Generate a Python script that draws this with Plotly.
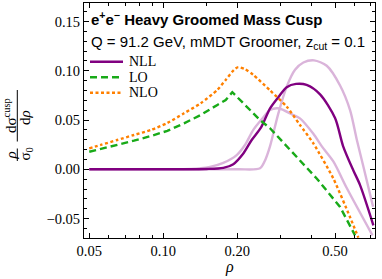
import plotly.graph_objects as go

# ---------------- data ----------------
rho_nll = [0.05, 0.10, 0.15, 0.1755, 0.1928, 0.2117, 0.229, 0.25, 0.272, 0.295,
           0.318, 0.347, 0.383, 0.4345, 0.50, 0.539, 0.593, 0.632, 0.716]
nll = [0.0, 0.0, 0.0003, 0.0015, 0.0052, 0.016, 0.0297, 0.0425, 0.0619, 0.0737,
       0.0833, 0.0866, 0.0856, 0.076, 0.052, 0.0236, -0.001, -0.016, -0.0568]

rho_lo = [0.05, 0.0557, 0.065, 0.076, 0.0889, 0.1039, 0.1215, 0.142, 0.166, 0.1795,
          0.191, 0.2476, 0.272, 0.328, 0.421, 0.524, 0.603]
lo = [0.0178, 0.0205, 0.0246, 0.029, 0.0337, 0.039, 0.0466, 0.0551, 0.0653, 0.0703,
      0.0782, 0.050, 0.0416, 0.0195, -0.0093, -0.0382, -0.067]

rho_nlo = [0.05, 0.0557, 0.065, 0.076, 0.0889, 0.1039, 0.1215, 0.142, 0.166, 0.1795,
           0.194, 0.202, 0.215, 0.2325, 0.272, 0.318, 0.36, 0.408, 0.492, 0.575, 0.622]
nlo = [0.0212, 0.0247, 0.0297, 0.0348, 0.0398, 0.047, 0.0568, 0.067, 0.0805, 0.0907,
       0.1009, 0.1036, 0.1016, 0.0958, 0.080, 0.0635, 0.045, 0.0263, -0.0093, -0.0484, -0.0693]

# NLL scale-variation envelope (light curves)
rho_up = [0.05, 0.10, 0.20, 0.2476, 0.2595, 0.272, 0.294, 0.318, 0.3437, 0.3716,
          0.4107, 0.4625, 0.524, 0.5755, 0.613, 0.656, 0.714]
nll_up = [0.0, 0.0, 0.0, 0.001, 0.009, 0.0235, 0.0568, 0.0839, 0.1009, 0.1083,
          0.1105, 0.105, 0.085, 0.060, 0.030, 0.0, -0.038]

rho_dn = [0.05, 0.10, 0.13, 0.142, 0.155, 0.1755, 0.199, 0.215, 0.2325, 0.252,
          0.272, 0.294, 0.338, 0.36, 0.408, 0.4426, 0.492, 0.558, 0.71]
nll_dn = [0.0, 0.0, 0.0003, 0.001, 0.0025, 0.0066, 0.0144, 0.0246, 0.040, 0.051,
          0.0602, 0.0619, 0.0551, 0.0517, 0.036, 0.023, 0.008, -0.019, -0.067]

x_tickvals = [0.05, 0.10, 0.20, 0.50]
x_ticktext = ["0.05", "0.10", "0.20", "0.50"]
x_minor = [0.06, 0.07, 0.08, 0.09, 0.15, 0.3, 0.4, 0.6, 0.7]
y_tickvals = [-0.05, 0.0, 0.05, 0.10, 0.15]
y_ticktext = ["\u22120.05", "0.00", "0.05", "0.10", "0.15"]

legend_names = ["NLL", "LO", "NLO"]

# ---------------- styling ----------------
PURPLE = "rgb(128,0,128)"
LIGHT = "rgb(218,180,218)"
GREEN = "rgb(24,170,24)"
ORANGE = "rgb(255,128,0)"
SERIF = "Liberation Serif"
SANS = "Liberation Sans"

W, H = 382, 279
L, R, T, B = 84, 7, 3, 41
PW, PH = W - L - R, H - T - B


def px(x):
    return (x - L) / PW


def py(y):
    return (H - B - y) / PH


fig = go.Figure()
for xs, ys in [(rho_up, nll_up), (rho_dn, nll_dn)]:
    fig.add_trace(go.Scatter(x=xs, y=ys, mode="lines", showlegend=False, hoverinfo="skip",
                             line=dict(color=LIGHT, width=2.4, shape="spline", smoothing=0.8)))
fig.add_trace(go.Scatter(x=rho_nll, y=nll, mode="lines", name=legend_names[0], showlegend=False,
                         line=dict(color=PURPLE, width=2.4, shape="spline", smoothing=0.8)))
fig.add_trace(go.Scatter(x=rho_lo, y=lo, mode="lines", name=legend_names[1], showlegend=False,
                         line=dict(color=GREEN, width=2.4, dash="7px,4px")))
fig.add_trace(go.Scatter(x=rho_nlo, y=nlo, mode="lines", name=legend_names[2], showlegend=False,
                         line=dict(color=ORANGE, width=2.4, dash="3px,2.5px", shape="spline", smoothing=0.6)))

axis_common = dict(showline=True, linecolor="black", linewidth=1, mirror="ticks",
                   ticks="inside", ticklen=5, tickwidth=1, tickcolor="black",
                   showgrid=False, zeroline=False, automargin=False,
                   tickfont=dict(family=SERIF, size=14.5, color="black"))

fig.update_xaxes(type="log", range=[-1.3224, -0.1385], tickmode="array",
                 tickvals=x_tickvals, ticktext=x_ticktext,
                 minor=dict(tickvals=x_minor, ticks="inside", ticklen=3, tickcolor="black"),
                 **axis_common)
fig.update_yaxes(range=[-0.0697, 0.1687], tickmode="array",
                 tickvals=y_tickvals, ticktext=y_ticktext,
                 minor=dict(dtick=0.01, tick0=0, ticks="inside", ticklen=3, tickcolor="black"),
                 **axis_common)

shapes = []
annotations = []

# title lines
annotations.append(dict(text="<b>e<sup>+</sup>e<sup>\u2212</sup> Heavy Groomed Mass Cusp</b>",
                        x=px(89), y=py(19), xref="paper", yref="paper", xanchor="left", yanchor="middle",
                        showarrow=False, font=dict(family=SANS, size=15, color="black")))
annotations.append(dict(text="Q = 91.2 GeV, mMDT Groomer, z<sub>cut</sub> = 0.1",
                        x=px(89), y=py(42), xref="paper", yref="paper", xanchor="left", yanchor="middle",
                        showarrow=False, font=dict(family=SANS, size=15, color="black")))

# legend (manual)
leg_y = [61.7, 77.3, 92.7]
leg_style = [dict(color=PURPLE, width=2.4), dict(color=GREEN, width=2.4, dash="7px,4px"),
             dict(color=ORANGE, width=2.4, dash="3px,2.5px")]
for name, yy, st in zip(legend_names, leg_y, leg_style):
    shapes.append(dict(type="line", xref="paper", yref="paper", x0=px(90), x1=px(123),
                       y0=py(yy), y1=py(yy), line=st))
    annotations.append(dict(text=name, x=px(127), y=py(yy), xref="paper", yref="paper",
                            xanchor="left", yanchor="middle", showarrow=False,
                            font=dict(family=SERIF, size=14, color="black")))

# x axis title
annotations.append(dict(text="<i>\u03c1</i>", x=px(229.5), y=py(267), xref="paper", yref="paper",
                        xanchor="center", yanchor="middle", showarrow=False,
                        font=dict(family=SERIF, size=16, color="black")))

# y axis title: rho/sigma0 * dsigma^cusp/drho (rotated)
ytitle = [("<i>\u03c1</i>", 10, 155.5), ("\u03c3<sub>0</sub>", 25, 154.5),
          ("d\u03c3<sup>cusp</sup>", 10, 116), ("d<i>\u03c1</i>", 25, 118)]
for txt, xx, yy in ytitle:
    annotations.append(dict(text=txt, x=px(xx), y=py(yy), xref="paper", yref="paper",
                            xanchor="center", yanchor="middle", textangle=-90, showarrow=False,
                            font=dict(family=SERIF, size=15, color="black")))
for y0, y1 in [(148.5, 161), (90, 141.5)]:
    shapes.append(dict(type="line", xref="paper", yref="paper", x0=px(17.3), x1=px(17.3),
                       y0=py(y0), y1=py(y1), line=dict(color="black", width=1)))

fig.update_layout(width=W, height=H, margin=dict(l=L, r=R, t=T, b=B),
                  paper_bgcolor="white", plot_bgcolor="white",
                  shapes=shapes, annotations=annotations, showlegend=False)

fig.write_html("out.html", config={"displayModeBar": False, "staticPlot": True},
               post_script="document.body.style.margin='0px';document.body.style.overflow='hidden';")
